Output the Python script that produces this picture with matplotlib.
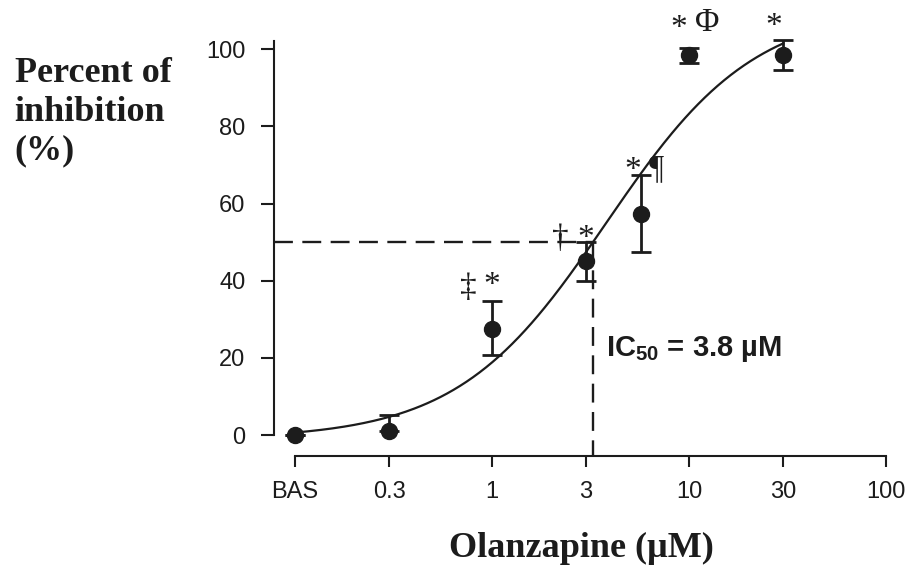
"""
Olanzapine concentration-response: percent inhibition vs dose, with Hill fit.
"""

import numpy as np
import matplotlib
matplotlib.use('Agg')
import matplotlib.pyplot as plt

plt.rcParams['mathtext.fontset'] = 'custom'
plt.rcParams['mathtext.rm'] = 'Liberation Sans'
plt.rcParams['mathtext.bf'] = 'Liberation Sans:bold'

# -- Data ------------------------------------------------------------
conc_um    = [0.1, 0.3, 1.0, 3.0, 5.7, 10.0, 30.0]   # 0.1 plotted as BAS
inhib_pct  = [0.0, 1.2, 27.6, 45.0, 57.4, 98.4, 98.4]
err_low    = [0.0, 0.0, 6.8, 5.0, 10.0, 2.0, 3.9]
err_high   = [0.0, 4.0, 7.2, 5.0, 10.0, 2.0, 4.0]

tick_pos    = [0.1, 0.3, 1, 3, 10, 30, 100]
tick_labels = ['BAS', '0.3', '1', '3', '10', '30', '100']

# Hill fit parameters
IC50   = 3.8
BOTTOM = -1.0
TOP    = 111.0
HILL_N = 1.15

# significance marks: (text, x, y)
marks = [
    ('\u2021', 0.755, 38.3),
    ('*',      1.0,   38.6),
    ('\u2020', 2.21,  51.0),
    ('*',      3.0,   50.9),
    ('*',      5.2,   68.6),
    ('\u00b6', 6.8,   69.0),
    ('*',      8.9,  105.4),
    ('\u03a6', 12.3, 106.8),
    ('*',      27.0, 105.7),
]

INK = '#1c1c1c'


def hill(x):
    return BOTTOM + (TOP - BOTTOM) / (1.0 + (IC50 / x) ** HILL_N)


fig = plt.figure(figsize=(9.14, 5.72), dpi=100)
ax = fig.add_axes([0.2998, 0.2028, 0.6696, 0.7517])
ax.set_xscale('log')
ax.set_xlim(0.0782, 100)
ax.set_ylim(-5.4, 106)

# fitted curve
xc = np.geomspace(0.1, 30, 300)
ax.plot(xc, hill(xc), color=INK, lw=1.6, zorder=3)

# 50 % guide lines, down to where the fit crosses 50
x50 = IC50 / ((TOP - BOTTOM) / (50.0 - BOTTOM) - 1.0) ** (1.0 / HILL_N)
ax.plot([0.0782, x50], [50, 50], color=INK, lw=1.7, ls=(0, (8, 4)), clip_on=False)
ax.plot([x50, x50], [50, -5.4], color=INK, lw=1.7, ls=(0, (8, 4)), clip_on=False)

# means +/- error
ax.errorbar(conc_um, inhib_pct, yerr=[err_low, err_high], fmt='o', color=INK,
            ms=11.5, elinewidth=2.0, capsize=7, capthick=2.0, zorder=4, clip_on=False)

for txt, x, y in marks:
    ax.text(x, y, txt, ha='center', va='center', fontsize=24,
            family='Liberation Serif', color=INK, zorder=5)

ax.text(3.79, 20.5, 'IC$_{\\mathbf{50}}$ = 3.8 \u00b5M',
        fontsize=21, fontweight='bold', family='Liberation Sans', color=INK,
        va='baseline', ha='left')

# spines
for side in ['top', 'right']:
    ax.spines[side].set_visible(False)
ax.spines['left'].set_bounds(0, 102)
ax.spines['bottom'].set_bounds(0.1, 100)
for side in ['left', 'bottom']:
    ax.spines[side].set_linewidth(1.5)
    ax.spines[side].set_color(INK)

ax.set_xticks(tick_pos)
ax.set_xticklabels(tick_labels)
ax.xaxis.set_minor_locator(matplotlib.ticker.NullLocator())
ax.set_yticks([0, 20, 40, 60, 80, 100])
ax.tick_params(axis='x', length=8, width=1.5, pad=10, labelsize=17, colors=INK)
ax.tick_params(axis='y', length=9.5, width=1.5, pad=11, labelsize=17, colors=INK)
for lab in ax.get_xticklabels() + ax.get_yticklabels():
    lab.set_family('Liberation Sans')

fig.text(0.016, 0.9, 'Percent of\ninhibition\n(%)', ha='left', va='top',
         fontsize=26, fontweight='bold', family='Liberation Serif',
         color=INK, linespacing=1.22)
fig.text(0.636, 0.026, 'Olanzapine (\u00b5M)', ha='center', va='baseline',
         fontsize=26, fontweight='bold', family='Liberation Serif', color=INK)

fig.savefig('out.png', dpi=100, facecolor='white')
